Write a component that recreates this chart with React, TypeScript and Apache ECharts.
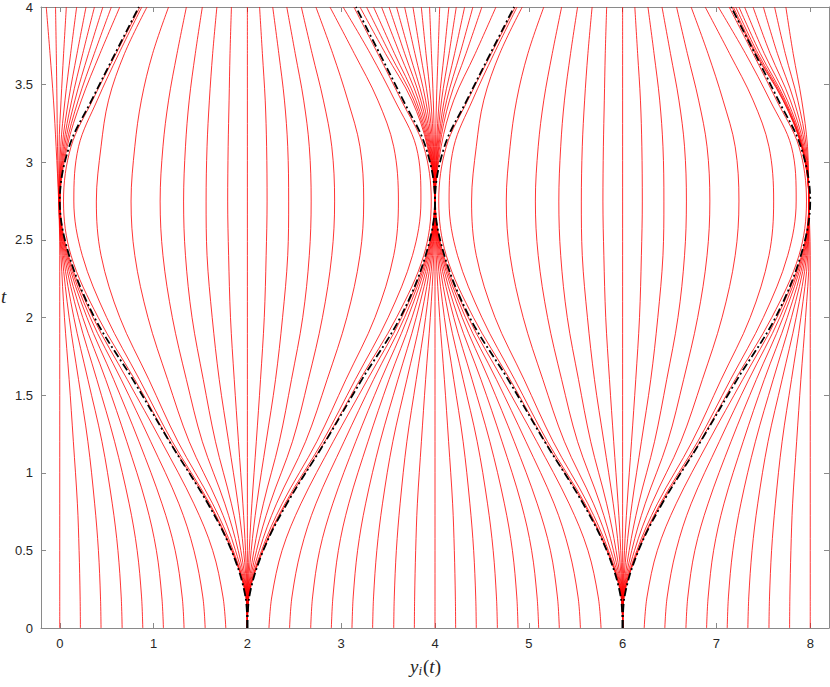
import React, { useEffect, useRef } from "react";
import * as echarts from "echarts";

// time levels (t) at which every trajectory is sampled
const T = [0, 0.2, 0.5, 0.8, 1.2, 1.6, 2.0, 2.4, 2.75, 3.1, 3.4, 3.7, 4.0];
const xTicks = [0, 1, 2, 3, 4, 5, 6, 7, 8];

// trajectories that focus near y = 0
const bundleAt0 = [
  [0, 0, 0, 0, 0, 0, 0, 0, -0.012, -0.039, -0.067, -0.104, -0.144],
  [0.22, 0.217, 0.206, 0.188, 0.145, 0.1, 0.05, 0.013, -0.01, -0.024, -0.03, -0.037, -0.045],
  [0.44, 0.434, 0.412, 0.372, 0.3, 0.2, 0.1, 0.026, -0.008, -0.007, 0.014, 0.041, 0.07],
  [0.665, 0.655, 0.62, 0.56, 0.45, 0.3, 0.15, 0.038, -0.006, 0.01, 0.056, 0.116, 0.18],
  [0.885, 0.872, 0.825, 0.74, 0.585, 0.395, 0.2, 0.05, -0.004, 0.025, 0.094, 0.184, 0.28],
  [1.105, 1.088, 1.03, 0.92, 0.715, 0.49, 0.245, 0.062, -0.002, 0.039, 0.128, 0.245, 0.37],
  [1.325, 1.305, 1.23, 1.09, 0.845, 0.575, 0.29, 0.073, 0, 0.052, 0.162, 0.306, 0.46],
  [1.55, 1.525, 1.43, 1.27, 0.97, 0.655, 0.325, 0.083, 0.002, 0.066, 0.197, 0.368, 0.55],
  [1.77, 1.74, 1.63, 1.43, 1.085, 0.72, 0.355, 0.092, 0.004, 0.079, 0.231, 0.429, 0.64],
];

// trajectories that focus near y = 4
const bundleAt4 = [
  [2.23, 2.26, 2.37, 2.57, 2.915, 3.28, 3.645, 3.908, 3.996, 3.92, 3.752, 3.472, 3.2],
  [2.45, 2.475, 2.57, 2.73, 3.03, 3.345, 3.675, 3.917, 3.996, 3.927, 3.774, 3.518, 3.27],
  [2.675, 2.695, 2.77, 2.91, 3.155, 3.425, 3.71, 3.927, 3.997, 3.935, 3.797, 3.568, 3.345],
  [2.895, 2.912, 2.97, 3.08, 3.285, 3.51, 3.755, 3.938, 3.997, 3.943, 3.823, 3.624, 3.43],
  [3.115, 3.128, 3.175, 3.26, 3.415, 3.605, 3.8, 3.95, 3.998, 3.951, 3.848, 3.677, 3.51],
  [3.335, 3.345, 3.38, 3.44, 3.55, 3.7, 3.85, 3.962, 3.998, 3.959, 3.873, 3.729, 3.59],
  [3.56, 3.566, 3.588, 3.628, 3.7, 3.8, 3.9, 3.974, 3.998, 3.968, 3.9, 3.786, 3.676],
  [3.78, 3.783, 3.794, 3.812, 3.855, 3.9, 3.95, 3.987, 3.999, 3.977, 3.927, 3.845, 3.765],
  [4, 4, 4, 4, 4, 4, 4, 4, 3.999, 3.985, 3.955, 3.904, 3.854],
  [4.22, 4.217, 4.206, 4.188, 4.145, 4.1, 4.05, 4.013, 4.0, 3.994, 3.982, 3.962, 3.942],
  [4.44, 4.434, 4.412, 4.372, 4.3, 4.2, 4.1, 4.026, 4.0, 4.005, 4.016, 4.033, 4.05],
  [4.665, 4.655, 4.62, 4.56, 4.45, 4.3, 4.15, 4.038, 4.001, 4.015, 4.046, 4.098, 4.148],
  [4.885, 4.872, 4.825, 4.74, 4.585, 4.395, 4.2, 4.05, 4.001, 4.023, 4.07, 4.15, 4.227],
  [5.105, 5.088, 5.03, 4.92, 4.715, 4.49, 4.245, 4.062, 4.002, 4.032, 4.098, 4.209, 4.316],
  [5.325, 5.305, 5.23, 5.09, 4.845, 4.575, 4.29, 4.073, 4.002, 4.04, 4.125, 4.267, 4.404],
  [5.55, 5.525, 5.43, 5.27, 4.97, 4.655, 4.325, 4.083, 4.003, 4.05, 4.155, 4.33, 4.5],
  [5.77, 5.74, 5.63, 5.43, 5.085, 4.72, 4.355, 4.092, 4.003, 4.065, 4.2, 4.429, 4.65],
];

// trajectories that focus near y = 8
const bundleAt8 = [
  [8, 8, 8, 8, 8, 8, 8, 8, 7.985, 7.971, 7.909, 7.818, 7.74],
  [7.78, 7.783, 7.794, 7.812, 7.855, 7.9, 7.95, 7.987, 7.985, 7.958, 7.867, 7.734, 7.62],
  [7.56, 7.566, 7.588, 7.628, 7.7, 7.8, 7.9, 7.974, 7.985, 7.945, 7.825, 7.65, 7.5],
  [7.335, 7.345, 7.38, 7.44, 7.55, 7.7, 7.85, 7.962, 7.985, 7.933, 7.787, 7.573, 7.39],
  [7.115, 7.128, 7.175, 7.26, 7.415, 7.605, 7.8, 7.95, 7.985, 7.923, 7.755, 7.51, 7.3],
  [6.895, 6.912, 6.97, 7.08, 7.285, 7.51, 7.755, 7.938, 7.985, 7.916, 7.734, 7.468, 7.24],
  [6.675, 6.695, 6.77, 6.91, 7.155, 7.425, 7.71, 7.927, 7.985, 7.913, 7.722, 7.443, 7.205],
  [6.45, 6.475, 6.57, 6.73, 7.03, 7.345, 7.675, 7.917, 7.985, 7.91, 7.713, 7.426, 7.18],
  [6.23, 6.26, 6.37, 6.57, 6.915, 7.28, 7.645, 7.908, 7.985, 7.908, 7.708, 7.415, 7.165],
];

// fan of trajectories leaving y = 2
const fanAt2 = [
  [2, 2, 2, 2, 2, 2, 2, 2, 2, 2, 2, 2, 2],
  [2, 1.998, 1.98, 1.952, 1.905, 1.86, 1.82, 1.8, 1.79, 1.795, 1.805, 1.815, 1.83],
  [2, 1.996, 1.959, 1.9, 1.8, 1.7, 1.625, 1.57, 1.56, 1.57, 1.595, 1.63, 1.675],
  [2, 1.994, 1.93, 1.83, 1.66, 1.53, 1.41, 1.34, 1.32, 1.34, 1.38, 1.445, 1.52],
  [2, 1.992, 1.902, 1.76, 1.52, 1.35, 1.2, 1.1, 1.07, 1.1, 1.16, 1.25, 1.35],
  [2, 1.99, 1.873, 1.69, 1.38, 1.15, 0.94, 0.8, 0.76, 0.8, 0.87, 0.99, 1.16],
  [2, 1.988, 1.848, 1.63, 1.26, 0.95, 0.64, 0.44, 0.39, 0.44, 0.52, 0.69, 0.93],
  [2, 1.986, 1.836, 1.6, 1.2, 0.85, 0.5, 0.24, 0.15, 0.2, 0.4, 0.63, 0.875],
  [2, 1.984, 1.832, 1.587, 1.175, 0.8, 0.41, 0.12, 0.04, 0.12, 0.35, 0.6, 0.855],
  [2, 2.002, 2.02, 2.048, 2.095, 2.14, 2.18, 2.2, 2.21, 2.205, 2.19, 2.16, 2.13],
  [2, 2.004, 2.041, 2.1, 2.2, 2.3, 2.375, 2.43, 2.44, 2.43, 2.395, 2.335, 2.27],
  [2, 2.006, 2.07, 2.17, 2.34, 2.47, 2.59, 2.66, 2.68, 2.66, 2.6, 2.51, 2.42],
  [2, 2.008, 2.098, 2.24, 2.48, 2.65, 2.8, 2.9, 2.93, 2.9, 2.81, 2.69, 2.575],
  [2, 2.01, 2.127, 2.31, 2.62, 2.85, 3.06, 3.2, 3.24, 3.2, 3.07, 2.91, 2.73],
  [2, 2.012, 2.152, 2.37, 2.74, 3.05, 3.36, 3.56, 3.61, 3.56, 3.39, 3.14, 2.88],
  [2, 2.014, 2.164, 2.4, 2.8, 3.15, 3.5, 3.76, 3.85, 3.8, 3.57, 3.31, 3.02],
  [2, 2.016, 2.168, 2.413, 2.825, 3.2, 3.59, 3.88, 3.96, 3.88, 3.64, 3.39, 3.135],
];

// fan of trajectories leaving y = 6
const fanAt6 = [
  [6, 6, 6, 6, 6, 6, 6, 6, 6, 6, 6, 6, 6],
  [6, 5.998, 5.98, 5.952, 5.905, 5.86, 5.82, 5.8, 5.79, 5.795, 5.805, 5.815, 5.83],
  [6, 5.996, 5.959, 5.9, 5.8, 5.7, 5.625, 5.57, 5.56, 5.57, 5.595, 5.63, 5.675],
  [6, 5.994, 5.93, 5.83, 5.66, 5.53, 5.41, 5.34, 5.32, 5.34, 5.38, 5.445, 5.52],
  [6, 5.992, 5.902, 5.76, 5.52, 5.35, 5.2, 5.1, 5.07, 5.1, 5.16, 5.25, 5.35],
  [6, 5.99, 5.873, 5.69, 5.38, 5.15, 4.94, 4.8, 4.76, 4.8, 4.87, 4.99, 5.16],
  [6, 5.988, 5.848, 5.63, 5.26, 4.95, 4.64, 4.44, 4.39, 4.44, 4.52, 4.69, 4.93],
  [6, 5.986, 5.836, 5.6, 5.2, 4.85, 4.5, 4.24, 4.15, 4.2, 4.4, 4.63, 4.875],
  [6, 5.984, 5.832, 5.587, 5.175, 4.8, 4.41, 4.12, 4.04, 4.12, 4.35, 4.6, 4.855],
  [6, 6.002, 6.02, 6.048, 6.095, 6.14, 6.18, 6.2, 6.21, 6.205, 6.19, 6.16, 6.13],
  [6, 6.004, 6.041, 6.1, 6.2, 6.3, 6.375, 6.43, 6.44, 6.43, 6.395, 6.335, 6.27],
  [6, 6.006, 6.07, 6.17, 6.34, 6.47, 6.59, 6.66, 6.68, 6.66, 6.6, 6.51, 6.42],
  [6, 6.008, 6.098, 6.24, 6.48, 6.65, 6.8, 6.9, 6.93, 6.9, 6.81, 6.69, 6.575],
  [6, 6.01, 6.127, 6.31, 6.62, 6.85, 7.06, 7.2, 7.24, 7.2, 7.07, 6.91, 6.73],
  [6, 6.012, 6.152, 6.37, 6.74, 7.05, 7.36, 7.56, 7.61, 7.56, 7.39, 7.14, 6.88],
  [6, 6.014, 6.164, 6.4, 6.8, 7.15, 7.5, 7.76, 7.85, 7.8, 7.57, 7.31, 7.02],
  [6, 6.016, 6.168, 6.413, 6.825, 7.2, 7.59, 7.88, 7.96, 7.88, 7.64, 7.39, 7.135],
];

// black dash-dot separatrices
const separatrices = [
  [2, 1.98, 1.83, 1.58, 1.17, 0.78, 0.37, 0.1, 0, 0.1, 0.34, 0.59, 0.843],
  [2, 2.02, 2.17, 2.42, 2.83, 3.22, 3.63, 3.9, 4, 3.9, 3.66, 3.41, 3.157],
  [6, 5.98, 5.83, 5.58, 5.17, 4.78, 4.37, 4.1, 4, 4.1, 4.34, 4.59, 4.843],
  [6, 6.02, 6.17, 6.42, 6.83, 7.22, 7.63, 7.9, 8, 7.9, 7.66, 7.41, 7.157],
];

const AXIS_COLOR = "#8a8a8a";
const LABEL_COLOR = "#262626";
const SANS = "'Liberation Sans', Arial, Helvetica, sans-serif";
const SERIF = "'Liberation Serif', 'DejaVu Serif', serif";

function toData(row: number[]) {
  return row.map((x, i) => [x, T[i]]);
}

export default function App() {
  const ref = useRef<HTMLDivElement>(null);

  useEffect(() => {
    if (!ref.current) return;
    const chart = echarts.init(ref.current, undefined, { renderer: "svg" });

    const redRows = [...bundleAt0, ...bundleAt4, ...bundleAt8, ...fanAt2, ...fanAt6];
    const series: any[] = redRows.map((row) => ({
      type: "line",
      data: toData(row),
      smooth: 0.35,
      symbol: "none",
      silent: true,
      clip: true,
      lineStyle: { color: "#ff0000", width: 0.8 },
      z: 2,
    }));
    separatrices.forEach((row) => {
      series.push({
        type: "line",
        data: toData(row),
        smooth: 0.35,
        symbol: "none",
        silent: true,
        clip: true,
        lineStyle: { color: "#000000", width: 1.8, type: [8, 3, 2, 3] },
        z: 3,
      });
    });

    const baseX = {
      type: "value",
      min: -0.2,
      max: 8.2,
      splitLine: { show: false },
      axisLine: { show: true, onZero: false, lineStyle: { color: AXIS_COLOR, width: 1 } },
      axisTick: { show: true, inside: true, length: 5, customValues: xTicks, lineStyle: { color: AXIS_COLOR } },
    };
    const baseY = {
      type: "value",
      min: 0,
      max: 4,
      interval: 0.5,
      splitLine: { show: false },
      axisLine: { show: true, onZero: false, lineStyle: { color: AXIS_COLOR, width: 1 } },
      axisTick: { show: true, inside: true, length: 5, lineStyle: { color: AXIS_COLOR } },
    };

    chart.setOption({
      animation: false,
      backgroundColor: "#ffffff",
      grid: { left: 41, right: 1, top: 7, bottom: 59, containLabel: false },
      xAxis: [
        {
          ...baseX,
          position: "bottom",
          axisLabel: { customValues: xTicks, color: LABEL_COLOR, fontSize: 13, margin: 9, fontFamily: SANS },
        },
        { ...baseX, position: "top", axisLabel: { show: false } },
      ],
      yAxis: [
        {
          ...baseY,
          position: "left",
          axisLabel: { color: LABEL_COLOR, fontSize: 13, margin: 8, fontFamily: SANS },
        },
        { ...baseY, position: "right", axisLabel: { show: false } },
      ],
      graphic: [
        {
          type: "text",
          x: 410,
          y: 655,
          style: {
            text: "{v|y}{s|i}{p|(}{v|t}{p|)}",
            rich: {
              v: { fontFamily: SERIF, fontStyle: "italic", fontSize: 19, fill: LABEL_COLOR },
              s: { fontFamily: SERIF, fontStyle: "italic", fontSize: 13, fill: LABEL_COLOR, padding: [9, 1, 0, 0] },
              p: { fontFamily: SERIF, fontSize: 19, fill: LABEL_COLOR },
            },
          },
        },
        {
          type: "text",
          x: 1,
          y: 287,
          style: { text: "t", fontFamily: SERIF, fontStyle: "italic", fontSize: 19, fill: LABEL_COLOR },
        },
      ],
      series,
    });

    return () => chart.dispose();
  }, []);

  return (
    <div
      ref={ref}
      style={{ position: "fixed", left: 0, top: 0, width: 830, height: 687, background: "#fff" }}
    />
  );
}
